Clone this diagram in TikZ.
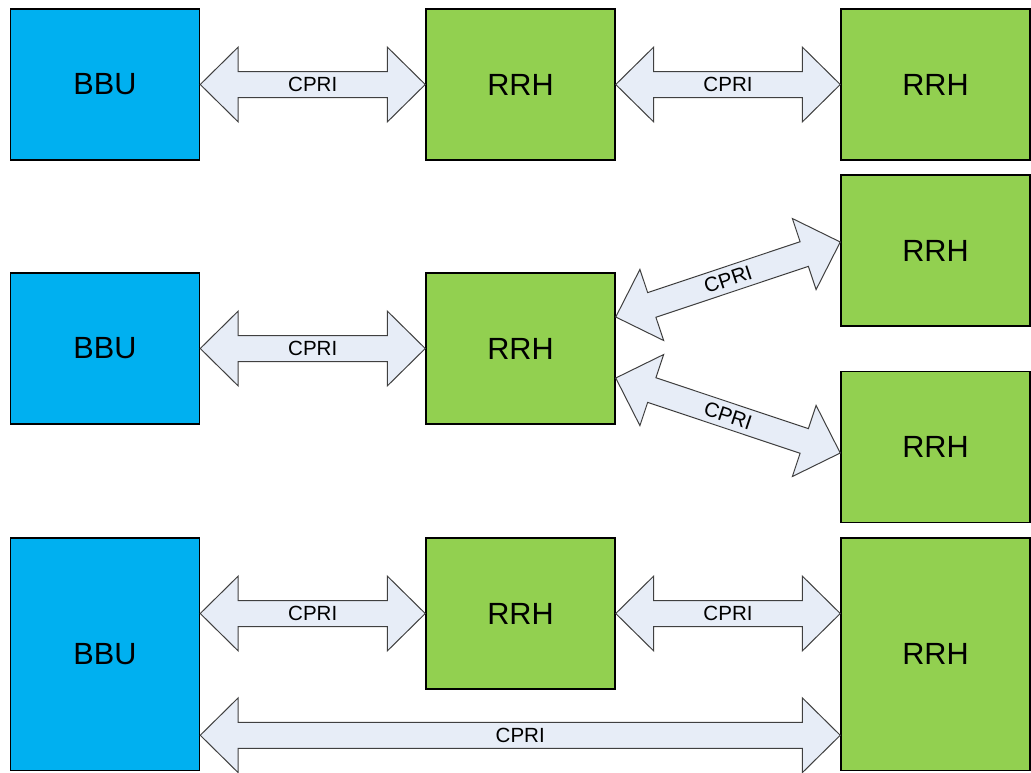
\documentclass[tikz,border=0pt]{standalone}
\usepackage{fontspec}
\setmainfont{Liberation Sans}
\usetikzlibrary{calc}
\definecolor{bbublue}{HTML}{00B0F0}
\definecolor{rrhgreen}{HTML}{92D050}
\definecolor{linkfill}{HTML}{E7EDF7}
\definecolor{linkline}{HTML}{404040}

% Double-headed block arrow between two named points, with its label
\newcommand\cpriarrow[3]{%
  \coordinate (ha) at ($(#1)!28.5pt!(#2)$);
  \coordinate (hb) at ($(#2)!28.5pt!(#1)$);
  \draw[link] (#1)
    -- ($(ha)!28.1pt!90:(#2)$) -- ($(ha)!9.75pt!90:(#2)$)
    -- ($(hb)!9.75pt!-90:(#1)$) -- ($(hb)!28.1pt!-90:(#1)$)
    -- (#2)
    -- ($(hb)!28.1pt!90:(#1)$) -- ($(hb)!9.75pt!90:(#1)$)
    -- ($(ha)!9.75pt!-90:(#2)$) -- ($(ha)!28.1pt!-90:(#2)$)
    -- cycle;
  \path (#1) -- node[sloped, lbl] {#3} (#2);
}

\begin{document}
\begin{tikzpicture}[x=0.75pt, y=-0.75pt,
  box/.style={draw=black, line width=1.1pt, inner sep=0pt,
    minimum width=141.75pt, minimum height=113.25pt, font=\fontsize{23}{26}\selectfont},
  bbu/.style={box, fill=bbublue},
  rrh/.style={box, fill=rrhgreen},
  tall/.style={minimum height=174.4pt},
  link/.style={draw=linkline, line width=0.75pt, fill=linkfill, line join=miter},
  lbl/.style={font=\fontsize{15.4}{17}\selectfont, inner sep=0pt}]
\useasboundingbox (0,0) rectangle (1031,772);

% first row: BBU - RRH - RRH in a chain
\node[bbu] (b1)  at (105,84.5)   {BBU};
\node[rrh] (r1a) at (520.5,84.5) {RRH};
\node[rrh] (r1b) at (935.5,84.5) {RRH};
\cpriarrow{b1.east}{r1a.west}{CPRI}
\cpriarrow{r1a.east}{r1b.west}{CPRI}

% second row: one RRH feeding two RRHs
\node[bbu] (b2)  at (105,348.5)   {BBU};
\node[rrh] (r2)  at (520.5,348.5) {RRH};
\node[rrh] (r2a) at (935.5,250.5) {RRH};
\node[rrh] (r2b) at (935.5,447)   {RRH};
\cpriarrow{b2.east}{r2.west}{CPRI}
\coordinate (u1) at ($(r2.east)+(0,-31.5)$);
\coordinate (u2) at ($(r2a.west)+(0,-8.5)$);
\coordinate (d1) at ($(r2.east)+(0,29.5)$);
\coordinate (d2) at ($(r2b.west)+(0,6)$);
\cpriarrow{u1}{u2}{CPRI}
\cpriarrow{d1}{d2}{CPRI}

% third row: ring through BBU and two RRHs
\node[bbu, tall] (b3)  at (105,654.25)   {BBU};
\node[rrh]       (r3a) at (520.5,613.5)  {RRH};
\node[rrh, tall] (r3b) at (935.5,654.25) {RRH};
\coordinate (t1) at (b3.east |- r3a.west);
\coordinate (t2) at (r3b.west |- r3a.east);
\coordinate (t3) at ($(b3.south east)+(0,-36)$);
\coordinate (t4) at ($(r3b.south west)+(0,-36)$);
\cpriarrow{t1}{r3a.west}{CPRI}
\cpriarrow{r3a.east}{t2}{CPRI}
\cpriarrow{t3}{t4}{CPRI}
\end{tikzpicture}
\end{document}
